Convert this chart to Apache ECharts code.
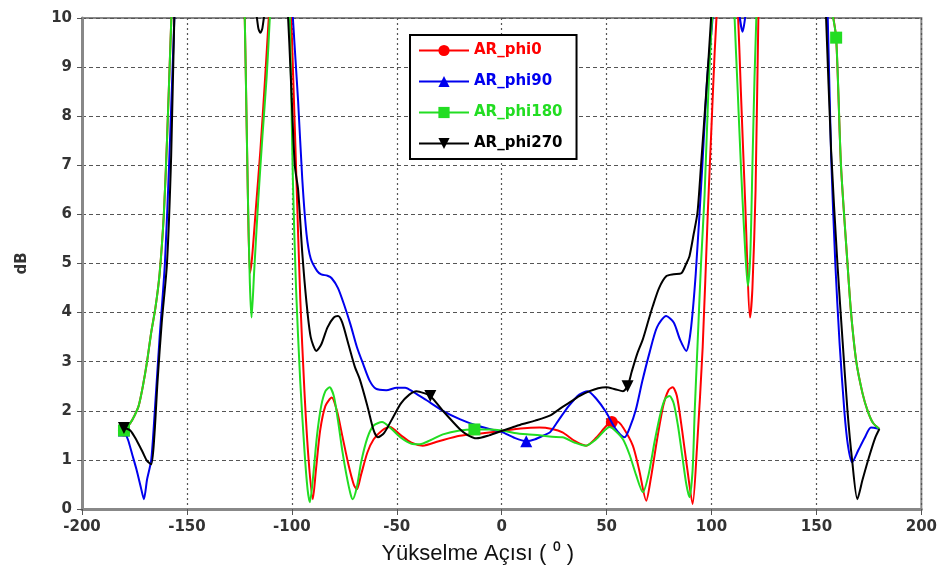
<!DOCTYPE html>
<html>
<head>
<meta charset="utf-8">
<script src="https://cdn.jsdelivr.net/npm/echarts@6/dist/echarts.min.js"></script>
<style>html,body{margin:0;padding:0;background:#fff}#c{width:940px;height:570px}</style>
</head>
<body>
<div id="c"></div>
<script>
// Series names
const seriesNames = ['AR_phi0', 'AR_phi90', 'AR_phi180', 'AR_phi270'];
const xTicks = [-200, -150, -100, -50, 0, 50, 100, 150, 200];
const yTicks = [0, 1, 2, 3, 4, 5, 6, 7, 8, 9, 10];

// AR_phi0 (angle, dB)
const phi0X = [-180,-177,-175,-173,-171,-169,-167,-165,-163,-161,-159.5,-158,-157,-155,-140,-126,-123,-122,-121,-120,-119,-117,-115,-113,-111,-109,-105,-102,-99.5,-97.8,-96,-94,-92,-90,-88.5,-86.5,-84,-81,-78.5,-76,-73,-70.5,-69,-67,-64,-61,-57,-53.3,-48,-43,-37.6,-30,-20,-10,0,9,18,24,29,35,40.3,45,49.8,52.5,55,58,62.5,65.5,68.9,71,74,77,79.5,81.5,83.5,86,88.5,91,93,95.8,98.2,100,101.5,103,106,110,112.5,114,116,118.4,119.5,121,122.4,124,140,155,157.5,159.4,161.7,164.8,166.5,169,172,174.4,177,180];
const phi0Y = [1.6,1.75,1.9,2.1,2.5,3.0,3.6,4.1,4.8,6.0,7.5,9.3,10.5,13,18,14,11,9,6.5,4.8,5.1,6.2,7.3,8.6,10,11.5,14,12,9,6.7,4.3,2.4,1.0,0.2,0.8,1.6,2.1,2.27,2.0,1.5,0.9,0.5,0.4,0.7,1.15,1.42,1.6,1.67,1.5,1.35,1.29,1.38,1.49,1.54,1.59,1.64,1.66,1.63,1.56,1.38,1.29,1.45,1.69,1.77,1.78,1.65,1.29,0.8,0.17,0.6,1.4,2.1,2.42,2.48,2.3,1.6,0.8,0.1,1.2,3.3,6.0,7.8,9.3,10.5,13,12,10.2,8.5,6.3,3.9,4.5,6.5,10.2,13,18,13,10.2,9.6,7.0,5.0,4.0,3.0,2.35,2.0,1.75,1.63];
const phi0Marks = [-180, 52.5];

// AR_phi90
const phi90X = [-180,-178,-176,-174,-172,-170.5,-169,-167,-165,-163,-160.5,-158.5,-156,-154,-140,-120,-102,-99.5,-97,-95,-93,-91,-88,-86,-83,-81,-78,-75,-72,-69,-66,-63,-60,-55,-50,-46,-42,-36,-28,-20,-12,-5,0,6,11.7,16,20,23,27,32,37,41,45,49.8,54,58.6,61,64,67,70.5,74,78.4,82,85,88,90,92.5,95.5,98,100.5,103,110,113,114.8,116.5,119,140,153,155.4,157,159,161,163.3,165,167,170,173,176,180];
const phi90Y = [1.6,1.4,1.1,0.8,0.45,0.2,0.6,1.0,2.2,3.5,5.0,7.0,10,12.5,18,16,12,10,8.3,6.7,5.6,5.1,4.85,4.78,4.75,4.7,4.5,4.15,3.75,3.3,2.95,2.62,2.45,2.42,2.47,2.47,2.38,2.22,2.0,1.83,1.7,1.62,1.57,1.45,1.38,1.42,1.5,1.56,1.8,2.1,2.33,2.4,2.25,1.97,1.65,1.46,1.65,2.03,2.6,3.19,3.7,3.93,3.8,3.45,3.22,3.6,4.8,6.9,8.8,10,12,12,10.2,9.72,10.2,12,18,13,10,7.2,5.0,3.4,2.0,1.3,0.95,1.2,1.45,1.66,1.63];
const phi90Marks = [-180, 11.7];

// AR_phi180
const phi180X = [-180,-177,-175,-173,-171,-169,-167,-165,-163,-161,-159.5,-158,-157,-155,-140,-126,-123,-122,-121,-120,-119.2,-118,-116,-114,-112,-110.5,-109,-105,-102,-100.5,-99.5,-98,-96,-94,-92.5,-91.4,-90,-88,-86,-84,-82,-80,-78,-76,-74,-72,-71,-69,-67,-64,-61,-57,-53,-48,-43,-39,-34,-28,-20,-13,-6,0,6,12,18,24,29,35,40,45,49,51.4,54,57.8,61,64,67.3,70,73,76,78,80,82,84,86,88,89.5,91,92,93.3,95,96.7,98.5,100,102,106,110,111,112.5,114,115.5,117.3,118.5,119.5,120.5,121.5,123,140,155,157,159.4,161.7,164.8,166.5,169,172,174.4,177,180];
const phi180Y = [1.6,1.75,1.9,2.1,2.5,3.0,3.6,4.1,4.8,6.0,7.5,9.3,10.5,13,18,14,11,9,6.5,4.6,3.9,4.8,6.3,7.6,8.8,10,11.5,14,12,9,6.7,4.5,2.6,1.2,0.4,0.14,0.6,1.5,2.1,2.4,2.48,2.3,1.8,1.2,0.7,0.3,0.2,0.45,0.95,1.45,1.7,1.77,1.65,1.45,1.33,1.32,1.4,1.52,1.6,1.62,1.62,1.6,1.55,1.52,1.5,1.47,1.46,1.35,1.29,1.42,1.6,1.67,1.6,1.42,1.1,0.7,0.34,0.7,1.4,2.0,2.25,2.3,2.15,1.7,1.1,0.5,0.24,0.8,2.0,3.3,5.0,6.4,8.5,9.8,11,14,11.5,10,8.5,7.0,5.7,4.54,5.2,7,8.8,10.2,13,18,13,10.3,9.6,7.0,5.0,4.0,3.0,2.35,2.0,1.75,1.63];
const phi180Marks = [-180, -13, 159.4];

// AR_phi270
const phi270X = [-180,-177,-174,-171,-169,-167,-165.5,-164,-162,-159.5,-157.5,-156,-154,-140,-125,-118,-116,-115,-114,-112,-106,-102,-100.5,-98.6,-97,-95,-93,-91,-88.3,-86,-83,-80,-78,-76,-73,-70,-67.6,-64,-61,-59,-56,-52,-48,-44,-40.6,-37,-34,-28,-20,-16,-12,-6,0,5,10,16,22.9,28,32.4,37,41.9,46,49.8,54,57.8,60,62,64.5,67.3,70,72,75,78.4,82,85.6,88,89.5,91.5,93.3,95,97.5,99.8,102,115,130,150,153,154.6,157,160,162.5,164.8,167,169.5,172,175,178,180];
const phi270Y = [1.65,1.6,1.4,1.15,0.98,0.91,1.5,2.6,3.8,5.0,7.2,10,12.5,18,13,10.5,9.8,9.7,9.8,10.5,13,10.2,8.8,7.0,6.5,5.2,4.2,3.5,3.22,3.35,3.7,3.9,3.93,3.8,3.35,2.9,2.64,2.1,1.6,1.46,1.55,1.85,2.15,2.33,2.4,2.36,2.3,2.0,1.63,1.5,1.44,1.5,1.59,1.66,1.73,1.8,1.9,2.05,2.17,2.3,2.4,2.46,2.48,2.44,2.4,2.5,2.8,3.15,3.46,3.85,4.13,4.5,4.74,4.78,4.8,5.0,5.15,5.6,6.03,7.0,8.5,10,12,14,14,14,11.5,10,7.3,5.0,3.4,2.0,1.0,0.2,0.6,1.05,1.45,1.63];
const phi270Marks = [-180, -34, 60];

const colors = ['#ff0000', '#0000ee', '#22dd22', '#000000'];
const symbols = ['circle', 'triangle', 'rect', 'path://M0,0 L10,0 L5,9 Z'];
const xs = [phi0X, phi90X, phi180X, phi270X];
const ys = [phi0Y, phi90Y, phi180Y, phi270Y];
const marks = [phi0Marks, phi90Marks, phi180Marks, phi270Marks];

const series = seriesNames.map((name, i) => ({
  name: name,
  type: 'line',
  data: xs[i].map((x, j) => [x, ys[i][j]]),
  smooth: 0.25,
  symbol: symbols[i],
  showSymbol: true,
  symbolSize: function (v) { return marks[i].indexOf(v[0]) >= 0 ? 12 : 0; },
  lineStyle: { color: colors[i], width: 2 },
  itemStyle: { color: colors[i] },
  clip: true,
  z: 2 + i
}));

const chart = echarts.init(document.getElementById('c'), null, { renderer: 'canvas' });
chart.setOption({
  animation: false,
  backgroundColor: '#fff',
  grid: { left: 82, right: 18, top: 18, bottom: 60, show: true, borderColor: '#888', borderWidth: 2, backgroundColor: 'transparent' },
  legend: {
    orient: 'vertical',
    left: 410,
    top: 35,
    padding: [8, 14, 8, 8],
    borderColor: '#000',
    borderWidth: 2,
    backgroundColor: '#fff',
    itemWidth: 50,
    itemHeight: 14,
    itemGap: 16,
    data: seriesNames.map((n, i) => ({ name: n, textStyle: { color: colors[i] } })),
    textStyle: { fontFamily: 'DejaVu Sans', fontWeight: 'bold', fontSize: 15 }
  },
  xAxis: {
    type: 'value', min: -200, max: 200, interval: 50,
    name: 'Yükselme Açısı ( ⁰ )',
    nameLocation: 'middle', nameGap: 34,
    nameTextStyle: { fontFamily: 'Liberation Sans Narrow, Liberation Sans', fontSize: 22, color: '#111', padding: [0, 48, 0, 0] },
    axisLine: { onZero: false, lineStyle: { color: '#888', width: 3 } },
    axisTick: { show: true, inside: false, length: 6, lineStyle: { color: '#555', width: 1 } },
    axisLabel: { fontFamily: 'DejaVu Sans', fontWeight: 'bold', fontSize: 15, color: '#333', margin: 11,
      formatter: function (v) { return xTicks.indexOf(v) >= 0 ? String(v) : ''; } },
    splitLine: { show: true, lineStyle: { color: '#555', type: [2, 3], width: 1.2 } }
  },
  yAxis: {
    type: 'value', min: 0, max: 10, interval: 1,
    name: 'dB',
    nameLocation: 'middle', nameGap: 52, nameRotate: 90,
    nameTextStyle: { fontFamily: 'DejaVu Sans', fontWeight: 'bold', fontSize: 15, color: '#333' },
    axisLine: { show: true, onZero: false, lineStyle: { color: '#888', width: 3 } },
    axisTick: { show: true, length: 5, lineStyle: { color: '#555' } },
    axisLabel: { fontFamily: 'DejaVu Sans', fontWeight: 'bold', fontSize: 15, color: '#333', margin: 10,
      formatter: function (v) { return yTicks.indexOf(v) >= 0 ? String(v) : ''; } },
    splitLine: { show: true, lineStyle: { color: '#555', type: [4, 3], width: 1.2 } }
  },
  series: series
});
</script>
</body>
</html>
